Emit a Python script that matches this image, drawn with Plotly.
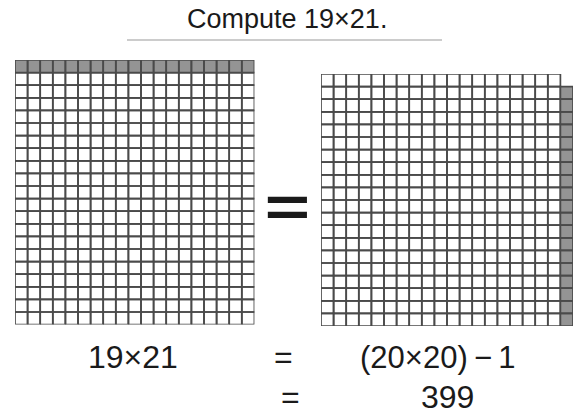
import plotly.graph_objects as go

# ---- data ----
factor_a = 19          # columns of the left rectangle
factor_b = 21          # rows of the left rectangle
square_side = 20       # side of the right square
result = 399           # final answer

title_text = "Compute 19×21."
eq_left = "19×21"
eq_mid = "(20×20)\u2009−\u20091"
eq_result = "399"

W, H = 578, 410
FONT = "Liberation Sans, Arial, Helvetica, sans-serif"
LINE_COLOR = "#4a4a4a"
SHADE = "#949494"


def px(x):
    return x / W


def py(y):
    return 1 - y / H


def cells_path(cells):
    xs, ys = [], []
    for c, r in cells:
        xs += [c, c + 1, c + 1, c, c, None]
        ys += [r, r, r + 1, r + 1, r, None]
    return xs, ys


# left grid: factor_a columns x factor_b rows, top row shaded
left_white = [(c, r) for c in range(factor_a) for r in range(factor_b - 1)]
left_gray = [(c, factor_b - 1) for c in range(factor_a)]

# right grid: (square_side-1) columns x square_side rows white,
# plus last column with the moved row (factor_a cells), top cell missing
right_white = [(c, r) for c in range(square_side - 1) for r in range(square_side)]
right_gray = [(square_side - 1, r) for r in range(factor_a)]

fig = go.Figure()


def add_cells(cells, fill, xa, ya):
    xs, ys = cells_path(cells)
    fig.add_trace(go.Scatter(
        x=xs, y=ys, mode="lines", fill="toself", fillcolor=fill,
        line=dict(color=LINE_COLOR, width=1.7),
        hoverinfo="skip", showlegend=False, xaxis=xa, yaxis=ya,
    ))


add_cells(left_white, "white", "x", "y")
add_cells(left_gray, SHADE, "x", "y")
add_cells(right_white, "white", "x2", "y2")
add_cells(right_gray, SHADE, "x2", "y2")

cell = 12.6
lx0, ly0 = 15, 60
rx0, ry0 = 321, 74

ax_common = dict(showgrid=False, zeroline=False, showticklabels=False,
                 showline=False, ticks="", fixedrange=True)

fig.update_layout(
    width=W, height=H, autosize=False,
    margin=dict(l=0, r=0, t=0, b=0),
    paper_bgcolor="white", plot_bgcolor="rgba(0,0,0,0)",
    xaxis=dict(domain=[px(lx0), px(lx0 + factor_a * cell)],
               range=[0, factor_a], **ax_common),
    yaxis=dict(domain=[py(ly0 + factor_b * cell), py(ly0)],
               range=[0, factor_b], **ax_common),
    xaxis2=dict(domain=[px(rx0), px(rx0 + square_side * cell)],
                range=[0, square_side], anchor="y2", **ax_common),
    yaxis2=dict(domain=[py(ry0 + square_side * cell), py(ry0)],
                range=[0, square_side], anchor="x2", **ax_common),
)

txt = dict(xref="paper", yref="paper", showarrow=False,
           xanchor="center", yanchor="middle")
ink = "#1a1a1a"

fig.add_annotation(x=px(287), y=py(19), text=title_text,
                   font=dict(family=FONT, size=27, color=ink), **txt)
fig.add_shape(type="line", xref="paper", yref="paper",
              x0=px(127), x1=px(442), y0=py(40), y1=py(40),
              line=dict(color="#9a9a9a", width=1.2))

fig.add_annotation(x=px(287), y=py(202), text="=",
                   font=dict(family="Lato", size=91, color=ink), **txt)

fig.add_annotation(x=px(132.5), y=py(357), text=eq_left,
                   font=dict(family=FONT, size=32, color=ink), **txt)
fig.add_annotation(x=px(283.5), y=py(357), text="=",
                   font=dict(family=FONT, size=32, color=ink), **txt)
fig.add_annotation(x=px(437), y=py(357), text=eq_mid,
                   font=dict(family=FONT, size=31, color=ink), **txt)
fig.add_annotation(x=px(290), y=py(397), text="=",
                   font=dict(family=FONT, size=32, color=ink), **txt)
fig.add_annotation(x=px(447.5), y=py(397), text=eq_result,
                   font=dict(family=FONT, size=32, color=ink), **txt)

fig.write_html("out.html", config={"displayModeBar": False},
               post_script="document.body.style.margin='0';")
